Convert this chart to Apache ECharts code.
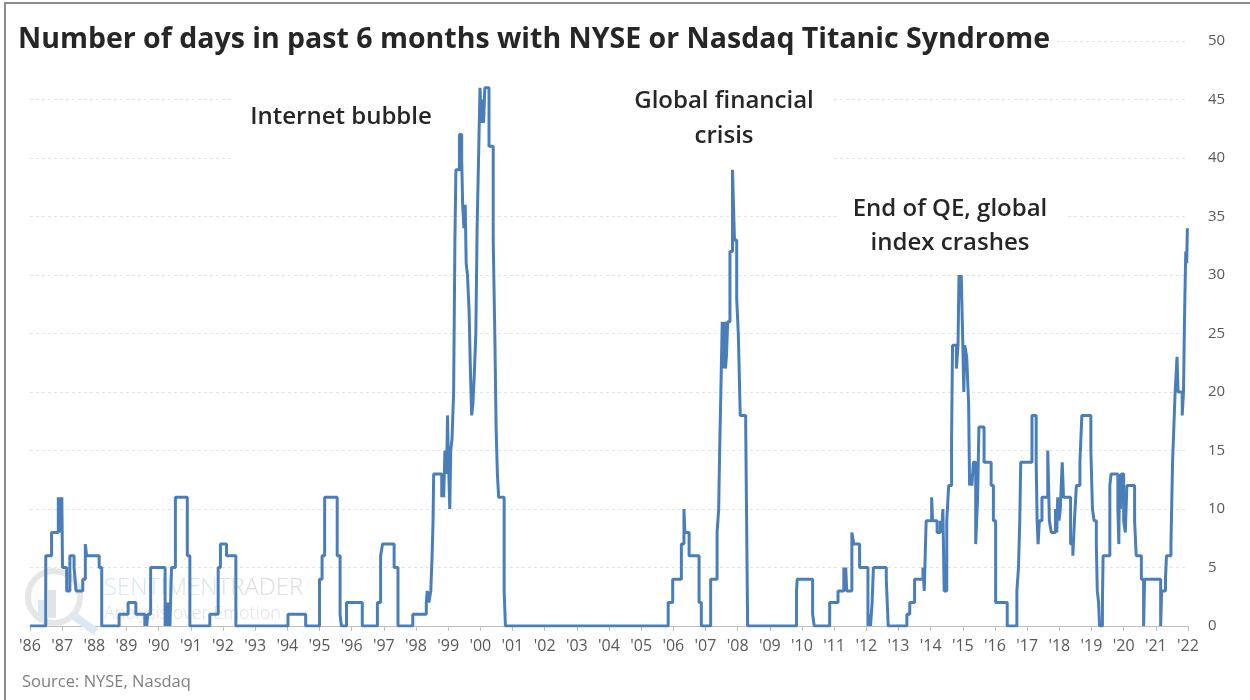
<!DOCTYPE html>
<html><head><meta charset="utf-8">
<script src="https://cdn.jsdelivr.net/npm/echarts@6/dist/echarts.min.js"></script>
<style>html,body{margin:0;padding:0;background:#fff}#c{width:1250px;height:700px}</style>
</head><body><div id="c"></div>
<script>
// Tick labels for the year axis
const yearLabels = ["'86","'87","'88","'89","'90","'91","'92","'93","'94","'95","'96","'97","'98","'99","'00","'01","'02","'03","'04","'05","'06","'07","'08","'09","'10","'11","'12","'13","'14","'15","'16","'17","'18","'19","'20","'21","'22"];

// Step change points [decimal year, days] - value holds until the next point
const era1986to1997 = [[1986.00,0],[1986.49,6],[1986.67,8],[1986.88,11],[1986.91,8],[1986.94,11],[1986.97,8],[1986.99,11],[1987.01,5],[1987.14,3],[1987.24,6],[1987.37,5],[1987.43,3],[1987.64,4],[1987.72,7],[1987.76,6],[1988.15,5],[1988.23,0],[1988.77,1],[1989.05,2],[1989.29,1],[1989.57,0],[1989.60,1],[1989.63,0],[1989.66,1],[1989.75,5],[1990.20,0],[1990.25,2],[1990.28,0],[1990.32,2],[1990.35,0],[1990.40,5],[1990.52,11],[1990.89,6],[1990.97,0],[1991.59,1],[1991.85,5],[1991.92,7],[1992.11,6],[1992.40,0],[1994.02,1],[1994.57,0],[1995.00,4],[1995.08,6],[1995.16,11],[1995.55,6],[1995.64,1],[1995.68,0],[1995.84,2],[1996.33,0],[1996.80,2],[1996.90,6],[1996.96,7],[1997.32,5],[1997.44,0],[1997.90,1]];
const era1998to2001 = [[1998.32,2],[1998.35,3],[1998.40,2],[1998.46,3],[1998.50,6],[1998.53,9],[1998.55,13],[1998.80,11],[1998.83,13],[1998.86,11],[1998.90,15],[1998.95,13],[1998.98,18],[1999.00,15],[1999.05,10],[1999.08,15],[1999.12,16],[1999.17,20],[1999.21,33],[1999.24,39],[1999.35,42],[1999.42,40],[1999.45,36],[1999.49,34],[1999.53,36],[1999.56,31],[1999.60,30],[1999.65,27],[1999.69,22],[1999.73,18],[1999.77,19],[1999.82,22],[1999.86,25],[1999.90,34],[1999.96,42],[1999.99,46],[2000.03,43],[2000.07,45],[2000.10,43],[2000.14,46],[2000.27,41],[2000.40,33],[2000.45,25],[2000.49,17],[2000.53,13],[2000.57,11],[2000.74,3],[2000.78,0]];
const era2005to2009 = [[2005.84,2],[2005.98,4],[2006.25,7],[2006.33,10],[2006.36,8],[2006.49,6],[2006.80,2],[2006.87,0],[2007.16,4],[2007.36,8],[2007.41,10],[2007.44,15],[2007.47,19],[2007.52,26],[2007.54,22],[2007.56,26],[2007.58,23],[2007.60,26],[2007.62,22],[2007.65,23],[2007.69,26],[2007.76,32],[2007.84,39],[2007.87,36],[2007.90,33],[2007.97,28],[2008.02,25],[2008.08,18],[2008.25,17],[2008.31,0]];
const era2009to2015 = [[2009.83,3],[2009.85,4],[2010.33,1],[2010.38,0],[2010.86,2],[2011.12,3],[2011.30,5],[2011.33,3],[2011.36,5],[2011.39,3],[2011.55,8],[2011.61,7],[2011.79,5],[2012.05,0],[2012.10,1],[2012.13,0],[2012.18,2],[2012.22,5],[2012.62,4],[2012.68,0],[2013.26,1],[2013.35,2],[2013.50,4],[2013.76,5],[2013.80,3],[2013.86,9],[2014.03,11],[2014.06,9],[2014.20,8],[2014.30,9],[2014.34,8],[2014.38,10],[2014.42,3],[2014.50,9],[2014.56,12],[2014.65,16],[2014.68,24],[2014.80,22],[2014.85,24],[2014.88,30],[2014.92,28],[2014.95,30],[2015.00,24],[2015.03,20],[2015.06,24],[2015.12,23],[2015.18,19],[2015.21,12],[2015.25,13],[2015.28,12],[2015.33,14],[2015.40,7],[2015.46,11],[2015.50,17],[2015.66,14],[2015.88,12],[2015.95,9]];
const era2016to2022 = [[2016.02,2],[2016.38,0],[2016.68,3],[2016.73,5],[2016.77,9],[2016.80,14],[2017.15,18],[2017.28,14],[2017.31,9],[2017.34,7],[2017.38,9],[2017.46,11],[2017.64,15],[2017.69,9],[2017.75,8],[2017.88,10],[2017.92,8],[2017.95,11],[2017.99,9],[2018.03,10],[2018.09,14],[2018.13,11],[2018.35,7],[2018.42,6],[2018.47,9],[2018.53,12],[2018.64,14],[2018.70,18],[2018.98,15],[2019.03,10],[2019.08,9],[2019.15,7],[2019.18,3],[2019.22,2],[2019.25,0],[2019.34,2],[2019.36,6],[2019.57,12],[2019.61,13],[2019.82,10],[2019.85,7],[2019.87,13],[2019.90,10],[2019.93,13],[2020.00,9],[2020.05,8],[2020.10,12],[2020.34,9],[2020.39,6],[2020.55,4],[2020.62,0],[2020.65,4],[2021.15,0],[2021.18,3],[2021.30,4],[2021.33,6],[2021.47,7],[2021.52,14],[2021.56,17],[2021.60,20],[2021.66,23],[2021.69,20],[2021.82,18],[2021.86,20],[2021.89,26],[2021.93,32],[2021.96,31],[2021.98,34],[2022.00,34]];

const titleText = 'Number of days in past 6 months with NYSE or Nasdaq Titanic Syndrome';
const sourceText = 'Source: NYSE, Nasdaq';

const data = [].concat(era1986to1997, era1998to2001, era2005to2009, era2009to2015, era2016to2022);
const FF = '"Open Sans", "Noto Sans", sans-serif';

const chart = echarts.init(document.getElementById('c'), null, {renderer: 'canvas'});
const option = {
  animation: false,
  backgroundColor: '#ffffff',
  grid: {left: 30, right: 62, top: 41, bottom: 74},
  xAxis: {
    type: 'value', min: 1986, max: 2022, interval: 1,
    axisLine: {show: true, lineStyle: {color: '#bfbfbf', width: 1}},
    axisTick: {show: true, length: 5, lineStyle: {color: '#bfbfbf'}},
    axisLabel: {show: true, showMinLabel: true, showMaxLabel: true, color: '#595959', fontSize: 16, fontFamily: FF, margin: 12,
      formatter: v => yearLabels[Math.round(v - 1986)]},
    splitLine: {show: false}
  },
  yAxis: {
    type: 'value', position: 'right', min: 0, max: 50, interval: 5,
    axisLine: {show: false}, axisTick: {show: false},
    axisLabel: {color: '#595959', fontSize: 15, fontFamily: FF, margin: 20},
    splitLine: {show: true, lineStyle: {color: '#e3e3e3', type: [3, 3], width: 1}}
  },
  series: [{
    type: 'line', step: 'end', data: data, symbol: 'none', showSymbol: false,
    lineStyle: {color: '#4a7ebb', width: 3}, z: 3
  }],
  graphic: [
    {type: 'rect', z: 0, silent: true, shape: {x: 5, y: 3, width: 1300, height: 800},
     style: {fill: 'none', stroke: '#8c8c8c', lineWidth: 2}},
    // white text boxes that mask the gridlines (as in the original)
    {type: 'rect', z: 1, silent: true, shape: {x: 7, y: 22, width: 1050, height: 38}, style: {fill: '#ffffff'}},
    {type: 'rect', z: 1, silent: true, shape: {x: 233, y: 88, width: 601, height: 77}, style: {fill: '#ffffff'}},
    {type: 'rect', z: 1, silent: true, shape: {x: 838, y: 192, width: 228, height: 70}, style: {fill: '#ffffff'}},
    // watermark
    {type: 'circle', z: 1, silent: true, shape: {cx: 54, cy: 597, r: 26}, style: {fill: 'none', stroke: '#e6e6e6', lineWidth: 6}},
    {type: 'line', z: 1, silent: true, shape: {x1: 74, y1: 616, x2: 96, y2: 632}, style: {stroke: '#dbe9f4', lineWidth: 8}},
    {type: 'rect', z: 1, silent: true, shape: {x: 48, y: 590, width: 8, height: 28}, style: {fill: '#e3e3e3'}},
    {type: 'rect', z: 1, silent: true, shape: {x: 38, y: 600, width: 7, height: 18}, style: {fill: '#dbe9f4'}},
    {type: 'text', z: 1, silent: true, x: 104, y: 588,
     style: {text: '{a|SENTIMEN}{b|TRADER}', textVerticalAlign: 'middle',
       rich: {a: {fill: '#d3e6f3', font: '300 24px ' + FF}, b: {fill: '#dcdcdc', font: '300 24px ' + FF}}}},
    {type: 'text', z: 1, silent: true, x: 104, y: 614,
     style: {text: 'Analysis over Emotion', fill: '#e0e0e0', font: '300 18px ' + FF, textVerticalAlign: 'middle'}},
    // title
    {type: 'text', z: 100, x: 18, y: 40,
     style: {text: titleText, fill: '#262626', font: 'bold 28.5px ' + FF, textVerticalAlign: 'middle'}},
    // annotations
    {type: 'text', z: 100, x: 341, y: 117,
     style: {text: 'Internet bubble', fill: '#262626', font: '600 24px ' + FF, textAlign: 'center', textVerticalAlign: 'middle'}},
    {type: 'text', z: 100, x: 724, y: 119,
     style: {text: 'Global financial\ncrisis', fill: '#262626', font: '600 24px ' + FF, textAlign: 'center', textVerticalAlign: 'middle',
       lineHeight: 35}},
    {type: 'text', z: 100, x: 950, y: 226,
     style: {text: 'End of QE, global\nindex crashes', fill: '#262626', font: '600 24px ' + FF, textAlign: 'center', textVerticalAlign: 'middle',
       lineHeight: 34}},
    // source
    {type: 'text', z: 100, x: 22, y: 682,
     style: {text: sourceText, fill: '#7f7f7f', font: '16.5px ' + FF, textVerticalAlign: 'middle'}}
  ]
};
chart.setOption(option);
</script>
</body></html>
